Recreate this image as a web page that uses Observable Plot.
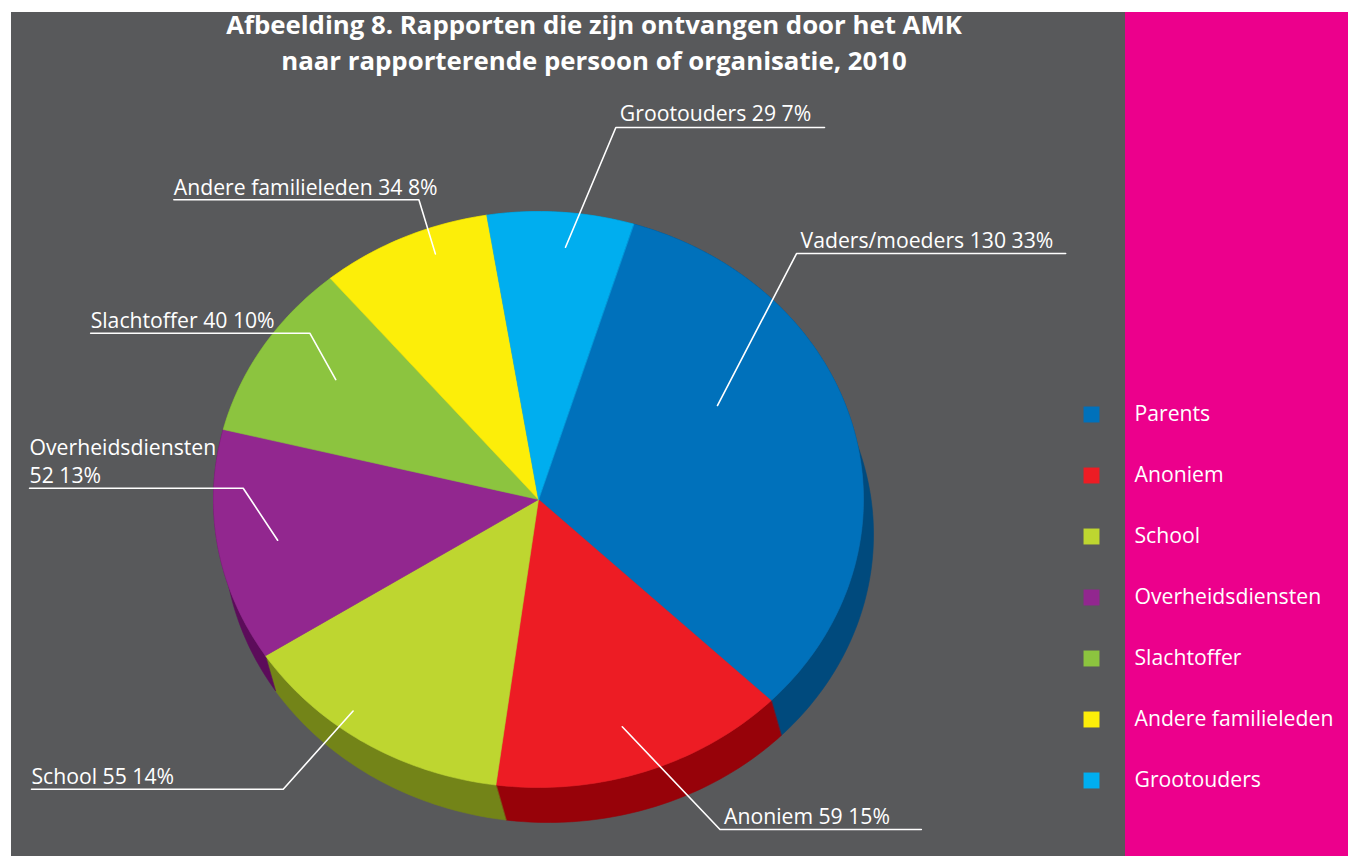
<!DOCTYPE html>
<html><head><meta charset="utf-8">
<script src="https://cdn.jsdelivr.net/npm/d3@7"></script>
<script src="https://cdn.jsdelivr.net/npm/@observablehq/plot@0.6"></script>
<style>
html,body{margin:0;padding:0;background:#fff;}
#wrap{position:relative;width:1348px;height:856px;overflow:hidden;font-family:"Open Sans",sans-serif;}
#gray{position:absolute;left:11px;top:12px;width:1114px;height:844px;background:#58595b;}
#pink{position:absolute;left:1125px;top:12px;width:223px;height:844px;background:#ec008c;}
#title{position:absolute;left:0;width:1188px;top:6px;text-align:center;color:#fff;font-weight:bold;font-size:25.8px;line-height:36px;}
#chart{position:absolute;left:0;top:0;}
#legend{position:absolute;left:1070px;top:380px;}
</style></head><body>
<div id="wrap"><div id="gray"></div><div id="pink"></div>
<div id="title">Afbeelding 8. Rapporten die zijn ontvangen door het AMK<br>naar rapporterende persoon of organisatie, 2010</div>
<div id="chart"></div><div id="legend"></div></div>
<script>
// ---- data ----
const legendNames = ["Parents","Anoniem","School","Overheidsdiensten","Slachtoffer","Andere familieleden","Grootouders"];
const labelNames  = ["Vaders/moeders","Anoniem","School","Overheidsdiensten","Slachtoffer","Andere familieleden","Grootouders"];
const values      = [130, 59, 55, 52, 40, 34, 29];
const percents    = ["33%","15%","14%","13%","10%","8%","7%"];
const colors      = ["#0071bb","#ed1c24","#bed630","#92278f","#8cc43f","#fcee09","#00aeef"];
const sideColors  = ["#004a7d","#970209","#738418","#5c0c5a","#5a8229","#a09a00","#0078a6"];

// ---- layout (pie-normalised units) ----
const startDeg = 17;
const depth = {x: 10/325, y: 35/288};
const labelLayout = [
  {r:0.64, nudge:-16.3, ex:0.794,  ey:-0.854, ux:1.622,  side:"right"},
  {r:0.83, nudge:1,     ex:0.5585, ey:1.146,  ux:1.178,  side:"right"},
  {r:0.93, nudge:5.5,   ex:-0.7855,ey:1.006,  ux:-1.56,  side:"left"},
  {r:0.815,nudge:-0.6,  ex:-0.9086,ey:-0.039, ux:-1.566, side:"left", wrap:true},
  {r:0.75, nudge:1.6,   ex:-0.7037,ey:-0.5774,ux:-1.378, side:"left"},
  {r:0.91, nudge:4.1,   ex:-0.368, ey:-1.0406,ux:-1.122, side:"left"},
  {r:0.88, nudge:1.5,   ex:0.238,  ey:-1.2917,ux:0.88,   side:"right"}
];

const total = d3.sum(values);
const pt = (deg, r) => { const a = deg*Math.PI/180; return [r*Math.sin(a), -r*Math.cos(a)]; };
let acc = startDeg;
const slices = values.map((v,i) => { const a0 = acc; acc += v/total*360; return {i, a0, a1: acc, mid:(a0+acc)/2}; });

const faceRows = [], wallRows = [], leaderRows = [], labelRows = [];
slices.forEach(s => {
  const n = Math.max(2, Math.ceil(s.a1 - s.a0));
  const arc = d3.range(n+1).map(k => pt(s.a0 + (s.a1-s.a0)*k/n, 1));
  const wall = arc.concat(arc.slice().reverse().map(([x,y]) => [x+depth.x, y+depth.y]));
  wall.forEach(([x,y]) => wallRows.push({id:s.i, x, y, fill: sideColors[s.i]}));
  [[0,0], ...arc].forEach(([x,y]) => faceRows.push({id:s.i, x, y, fill: colors[s.i]}));
  const L = labelLayout[s.i];
  const [ix, iy] = pt(s.mid + L.nudge, L.r);
  [[ix,iy],[L.ex,L.ey],[L.ux,L.ey]].forEach(([x,y]) => leaderRows.push({id:s.i, x, y}));
  const sep = L.wrap ? "\n" : " ";
  labelRows.push({side:L.side, x: L.side==="right" ? L.ex : L.ux, y: L.ey,
    text: `${labelNames[s.i]}${sep}${values[s.i]} ${percents[s.i]}`});
});

const font = "'Open Sans', sans-serif";
const chart = Plot.plot({
  width: 1348, height: 856, margin: 0,
  x: {domain:[-1,1], range:[538-325, 538+325], axis:null},
  y: {domain:[-1,1], range:[499-288, 499+288], axis:null},
  color: {type:"identity"},
  style: {background:"transparent", overflow:"visible", fontFamily:font},
  marks: [
    Plot.line(wallRows, {x:"x", y:"y", z:"id", fill:"fill", stroke:"fill", strokeWidth:0.6, curve:"linear-closed"}),
    Plot.line(faceRows, {x:"x", y:"y", z:"id", fill:"fill", stroke:"fill", strokeWidth:0.6, curve:"linear-closed"}),
    Plot.line(leaderRows, {x:"x", y:"y", z:"id", stroke:"#ffffff", strokeWidth:1.6}),
    Plot.text(labelRows.filter(d=>d.side==="right"), {x:"x", y:"y", text:"text", textAnchor:"start", lineAnchor:"bottom", dx:4, dy:-6, fill:"#ffffff", fontSize:21.2, lineHeight:1.35}),
    Plot.text(labelRows.filter(d=>d.side==="left"), {x:"x", y:"y", text:"text", textAnchor:"start", lineAnchor:"bottom", dx:0, dy:-5, fill:"#ffffff", fontSize:21.2, lineHeight:1.35})
  ]
});
document.getElementById("chart").appendChild(chart);

const legendRows = legendNames.map((name,i) => ({name, color: colors[i]}));
const legend = Plot.plot({
  width: 278, height: 440, margin: 0,
  x: {domain:[0,278], range:[0,278], axis:null},
  y: {type:"point", domain: legendNames, range:[31, 402], padding:0, axis:null},
  color: {type:"identity"},
  style: {background:"transparent", fontFamily:font},
  marks: [
    Plot.dot(legendRows, {x:()=>21, y:"name", symbol:"square", r:9, fill:"color", stroke:null}),
    Plot.text(legendRows, {x:()=>64, y:"name", text:"name", textAnchor:"start", fill:"#ffffff", fontSize:21.2})
  ]
});
document.getElementById("legend").appendChild(legend);
</script>
</body></html>
